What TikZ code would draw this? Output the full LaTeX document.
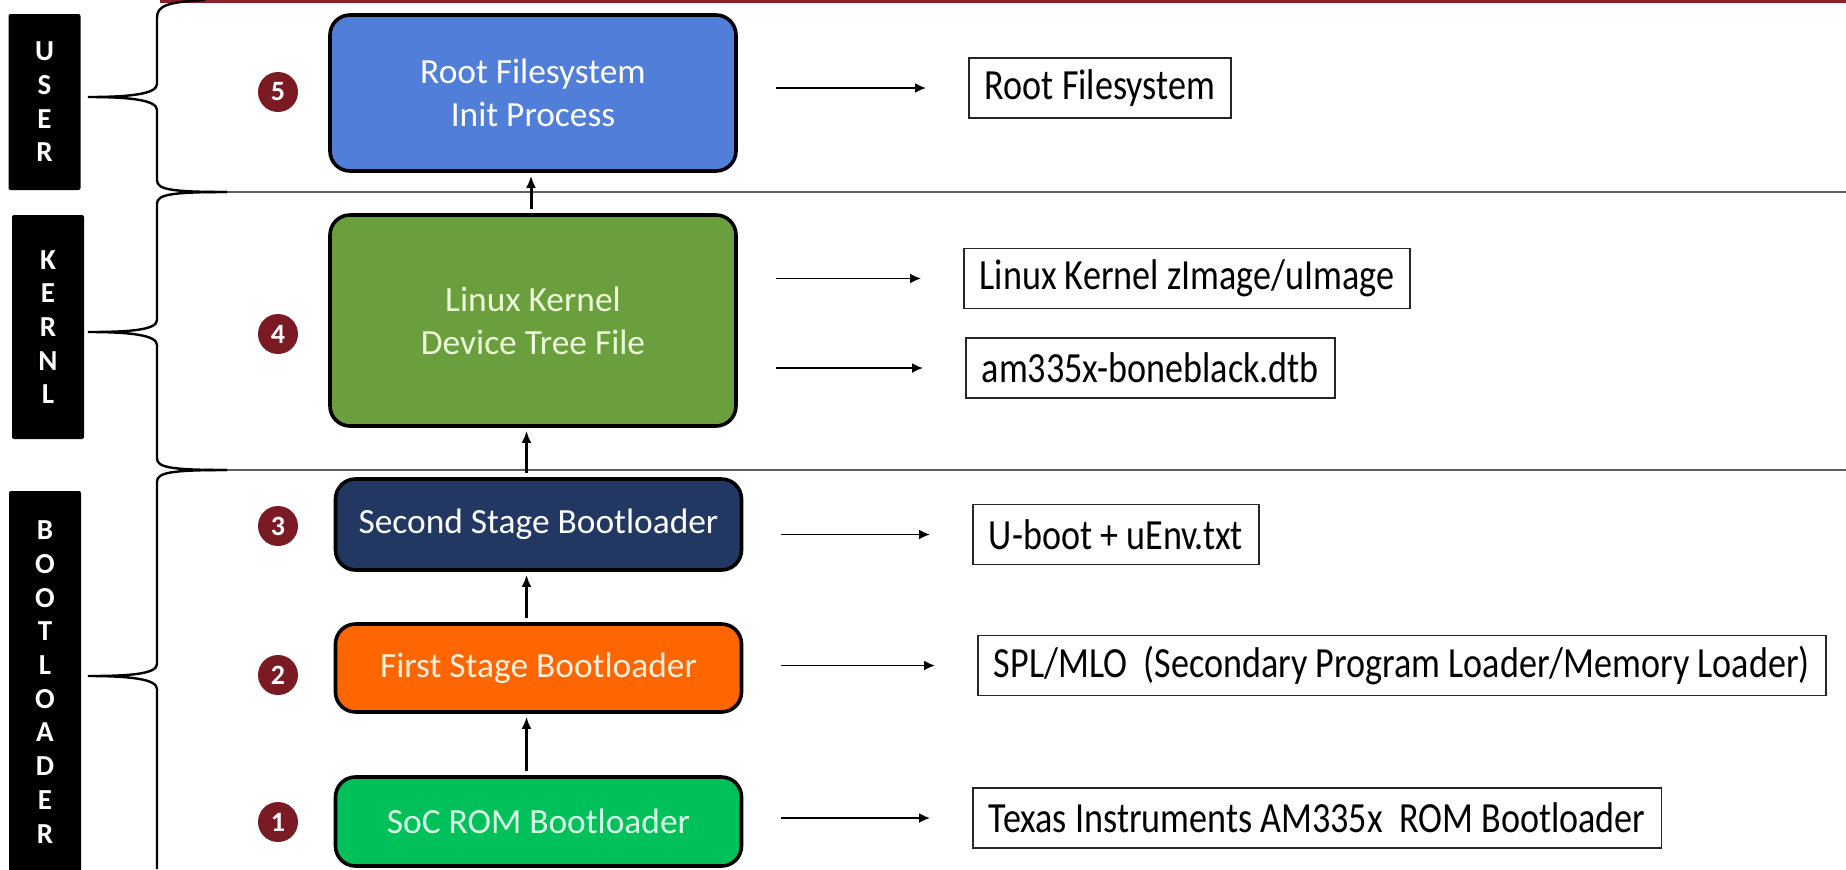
\documentclass[tikz,border=0pt]{standalone}
\usepackage{fontspec}
\setmainfont{Carlito}
\newfontfamily\slimfont[FakeStretch=0.84]{Carlito}
\usetikzlibrary{arrows.meta}

\definecolor{rootblue}{RGB}{80,126,216}
\definecolor{kerngreen}{RGB}{107,158,60}
\definecolor{ssblnavy}{RGB}{34,56,98}
\definecolor{fsblorange}{RGB}{255,102,0}
\definecolor{romgreen}{RGB}{0,192,90}
\definecolor{badgered}{RGB}{122,26,34}
\definecolor{topred}{RGB}{140,30,42}
\definecolor{sepgray}{RGB}{95,95,95}

\tikzset{
  stage/.style={draw=black, line width=1.8pt, rounded corners=10pt, minimum width=203pt,
    align=center, text=white, font=\fontsize{17.7}{21.5}\selectfont},
  outbox/.style={draw=black!85, line width=0.8pt, anchor=west, inner xsep=8pt,
    minimum height=30pt, font=\slimfont\fontsize{21.5}{24}\selectfont},
  badge/.style={circle, fill=badgered, minimum width=20pt, minimum height=20pt, inner sep=0pt,
    text=white, font=\bfseries\fontsize{14}{14}\selectfont},
  layerbox/.style={fill=black, rounded corners=1pt, minimum width=36pt, align=center,
    text=white, font=\bfseries\fontsize{14.5}{16.85}\selectfont},
  uparrow/.style={-{Latex[length=6pt,width=5pt]}, line width=1.5pt, shorten <=2pt, shorten >=1.5pt},
  outarrow/.style={-{Latex[length=5.5pt,width=5pt]}, line width=0.9pt, shorten <=19pt, shorten >=21pt},
  bracel/.style={line width=1.2pt},
  sepline/.style={sepgray, line width=1pt}
}

\begin{document}
\begin{tikzpicture}[x=0.5pt, y=-0.5pt]
    \path[fill=white, use as bounding box] (0,0) rectangle (1846,869);

    % layers on the left
    \node[layerbox, minimum height=88pt] (user) at (44.5,102) {U\\S\\E\\R};
    \node[layerbox, minimum height=112pt] (kern) at (48,327) {K\\E\\R\\N\\L};
    \node[layerbox, minimum height=191pt] (boot) at (45,682) {B\\O\\O\\T\\L\\O\\A\\D\\E\\R};

    \draw[topred, line width=1.5pt] (160,1) -- (1846,1);
    \draw[sepline] (227,192) -- (1846,192);
    \draw[sepline] (227,470) -- (1846,470);

    \draw[bracel] (205,0) .. controls (166,2) and (157,6) .. (157,18) -- (157,84)
        .. controls (157,94) and (130,97) .. (88,97) .. controls (130,97) and (157,100) .. (157,110)
        -- (157,180) .. controls (157,189) and (168,192) .. (227,192);
    \draw[bracel] (227,192) .. controls (168,192) and (157,195) .. (157,204) -- (157,320)
        .. controls (157,330) and (130,332) .. (88,332) .. controls (130,332) and (157,335) .. (157,345)
        -- (157,458) .. controls (157,467) and (168,470) .. (227,470);
    \draw[bracel] (227,470) .. controls (168,470) and (157,473) .. (157,482) -- (157,664)
        .. controls (157,674) and (130,676) .. (88,676) .. controls (130,676) and (157,679) .. (157,689)
        -- (157,869);

    % boot stages
    \node[stage, fill=rootblue, minimum height=78pt] (rootfs) at (533,93) {Root Filesystem\\Init Process};
    \node[stage, fill=kerngreen, minimum height=105.5pt, text={rgb,255:red,236;green,250;blue,218}] (kernel) at (533,320.5) {Linux Kernel\\Device Tree File};
    \node[stage, fill=ssblnavy, minimum height=45.5pt] (ssbl) at (538.5,524.5) {Second Stage Bootloader};
    \node[stage, fill=fsblorange, minimum height=44pt, text={rgb,255:red,255;green,240;blue,222}] (fsbl) at (538.5,668) {First Stage Bootloader};
    \node[stage, fill=romgreen, minimum height=44.5pt, text={rgb,255:red,215;green,255;blue,232}] (rom) at (538.5,821.5) {SoC ROM Bootloader};

    \node[badge] (n5) at (278,92) {5};
    \node[badge] (n4) at (278,334) {4};
    \node[badge] (n3) at (278,526) {3};
    \node[badge] (n2) at (278,675) {2};
    \node[badge] (n1) at (278,822) {1};

    \draw[uparrow] ([xshift=-6pt]rom.north) -- ([xshift=-6pt]rom.north |- fsbl.south);
    \draw[uparrow] ([xshift=-6pt]fsbl.north) -- ([xshift=-6pt]fsbl.north |- ssbl.south);
    \draw[uparrow] ([xshift=-6pt]ssbl.north) -- ([xshift=-6pt]ssbl.north |- kernel.south);
    \draw[uparrow] ([xshift=-1pt]kernel.north) -- ([xshift=-1pt]rootfs.south);

    % what each stage is
    \node[outbox] (rfs) at (968,88) {Root Filesystem};
    \node[outbox] (zimg) at (963,278.5) {Linux Kernel zImage/uImage};
    \node[outbox] (dtb) at (965,368) {am335x-boneblack.dtb};
    \node[outbox] (uboot) at (972,534.5) {U-boot + uEnv.txt};
    \node[outbox] (spl) at (977,665.5) {SPL/MLO\ \ (Secondary Program Loader/Memory Loader)};
    \node[outbox] (ti) at (972,818) {Texas Instruments AM335x\ \ ROM Bootloader};

    \draw[outarrow] (rootfs.east |- rfs.west) -- (rfs.west);
    \draw[outarrow] (kernel.east |- zimg.west) -- (zimg.west);
    \draw[outarrow] (kernel.east |- dtb.west) -- (dtb.west);
    \draw[outarrow] (ssbl.east |- uboot.west) -- (uboot.west);
    \draw[outarrow] (fsbl.east |- spl.west) -- (spl.west);
    \draw[outarrow] (rom.east |- ti.west) -- (ti.west);
\end{tikzpicture}
\end{document}
